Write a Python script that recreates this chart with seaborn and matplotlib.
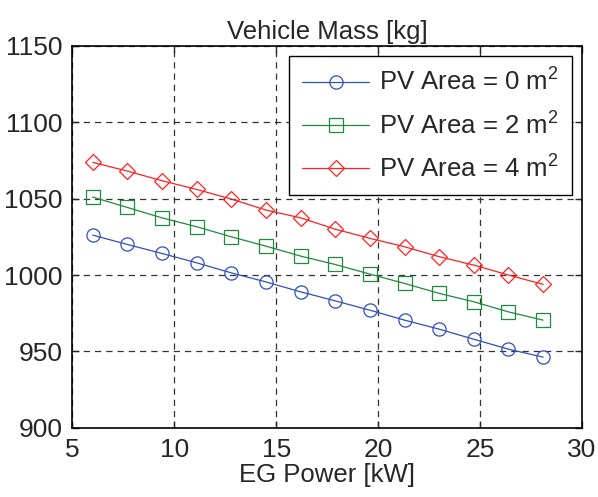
import seaborn as sns
import matplotlib.pyplot as plt
import pandas as pd

eg_power = [6.0, 7.7, 9.4, 11.1, 12.8, 14.5, 16.2, 17.9, 19.6, 21.3, 23.0, 24.7, 26.4, 28.1]
mass_pv0 = [1026.1, 1020.0, 1014.1, 1008.0, 1001.4, 995.5, 989.0, 983.1, 977.0, 970.5, 964.6, 958.0, 951.5, 946.3]
mass_pv2 = [1051.0, 1044.2, 1037.4, 1031.6, 1025.0, 1018.9, 1012.4, 1006.9, 1000.6, 994.5, 988.0, 982.5, 975.9, 970.5]
mass_pv4 = [1073.7, 1068.0, 1061.7, 1056.0, 1049.7, 1042.5, 1037.4, 1030.0, 1024.0, 1018.5, 1012.0, 1006.5, 1000.0, 993.9]
labels = ['PV Area = 0 m$^2$', 'PV Area = 2 m$^2$', 'PV Area = 4 m$^2$']

sns.set_style('ticks')
plt.rcParams['font.family'] = ['Liberation Sans', 'DejaVu Sans']
plt.rcParams['mathtext.fontset'] = 'custom'
plt.rcParams['mathtext.rm'] = 'Liberation Sans'
plt.rcParams['mathtext.it'] = 'Liberation Sans'

df = pd.DataFrame({'power': eg_power * 3,
                   'mass': mass_pv0 + mass_pv2 + mass_pv4,
                   'series': [labels[0]] * 14 + [labels[1]] * 14 + [labels[2]] * 14})

fig = plt.figure(figsize=(5.98, 4.97), dpi=100)
ax = fig.add_axes([0.121, 0.139, 0.852, 0.769])

colors = ['#3050b8', '#1f8a3c', '#ff2020']
markers = ['o', 's', 'D']
msizes = [9.5, 9.5, 8.5]
for lab, c, m, ms in zip(labels, colors, markers, msizes):
    sub = df[df['series'] == lab]
    sns.lineplot(data=sub, x='power', y='mass', ax=ax, color=c, marker=m, markersize=ms,
                 markerfacecolor='none', markeredgecolor=c, markeredgewidth=0.9,
                 linewidth=0.9, label=lab)

ax.set_xlim(5, 30)
ax.set_ylim(900, 1150)
ax.set_xticks([5, 10, 15, 20, 25, 30])
ax.set_yticks([900, 950, 1000, 1050, 1100, 1150])
ax.grid(True, color='#333333', linestyle=(0, (5, 4)), linewidth=0.9)
for s in ax.spines.values():
    s.set_linewidth(1.2)
    s.set_color('black')
ax.tick_params(labelsize=19, direction='in', length=5, width=1, top=True, right=True, pad=7)
ax.set_title('Vehicle Mass [kg]', fontsize=18.5, pad=5)
ax.set_xlabel('EG Power [kW]', fontsize=18.5, labelpad=1)
ax.set_ylabel('')

leg = ax.legend(loc='upper right', fontsize=18.5, frameon=True, fancybox=False,
                edgecolor='black', framealpha=1, borderpad=0.5, labelspacing=0.62,
                handlelength=2.6, handletextpad=0.4, borderaxespad=0.4)
leg.get_frame().set_linewidth(1.0)

fig.savefig('out.png', dpi=100)
